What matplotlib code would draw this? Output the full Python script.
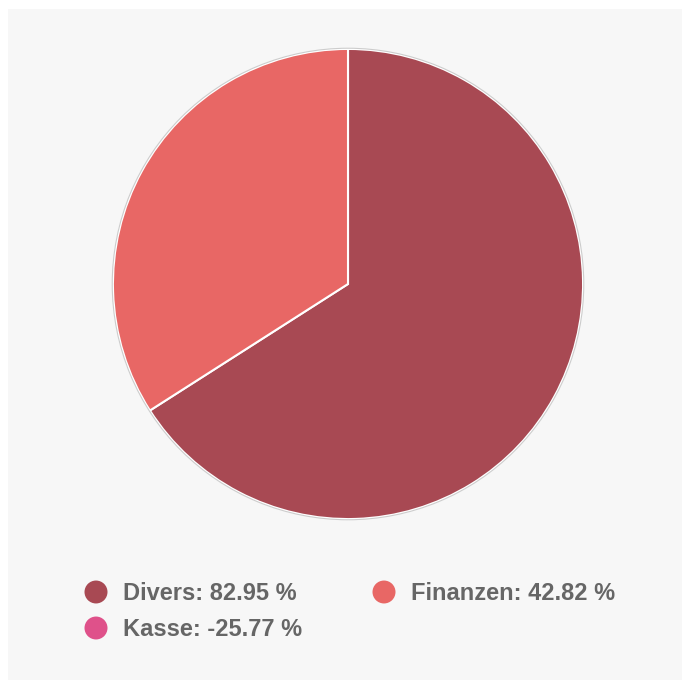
import matplotlib.pyplot as plt
from matplotlib.patches import Rectangle

# Data
labels = ['Divers', 'Finanzen', 'Kasse']
values = [82.95, 42.82, -25.77]
colours = ['#a84953', '#e86765', '#df518a']

W, H = 682, 680
fig = plt.figure(figsize=(W / 100, H / 100), dpi=100)
fig.patch.set_facecolor('white')

# Gray panel (white margin on left and top only)
fig.patches.append(Rectangle((8 / W, -0.01), 1, 1.01 - 9 / H, transform=fig.transFigure,
                             facecolor='#f7f7f7', edgecolor='none', zorder=-5))

# Pie axes: center (348, 284), radius 236 px
cx, cy, r = 348, 284, 236
ax = fig.add_axes([(cx - r) / W, 1 - (cy + r) / H, 2 * r / W, 2 * r / H])
ax.set_facecolor('none')
ax.set_zorder(2)

# Negative values are not drawn as slices
pieVals = [v for v in values if v > 0]
pieCols = [c for v, c in zip(values, colours) if v > 0]
ax.pie(pieVals, colors=pieCols, startangle=90, counterclock=False, radius=1,
       wedgeprops=dict(edgecolor='white', linewidth=1.5))
ax.pie([1], colors=['none'], radius=1.003,
       wedgeprops=dict(edgecolor='#cccccc', linewidth=0.8, facecolor='none'))
ax.set_xlim(-1.004, 1.004)
ax.set_ylim(-1.004, 1.004)
ax.set_aspect('equal')
ax.axis('off')

# Legend
positions = [(96, 592), (384, 592), (96, 628)]
for (x, y), lab, val, col in zip(positions, labels, values, colours):
    fig.patches.append(plt.Circle((x / W, 1 - y / H), 11.5 / W, transform=fig.transFigure,
                                  facecolor=col, edgecolor='none'))
    fig.text((x + 27) / W, 1 - (y + 2) / H, '{0}: {1:.2f} %'.format(lab, val),
             fontsize=17, fontweight='bold', color='#666666',
             family='Liberation Sans', va='center', ha='left')

fig.savefig('out.png', dpi=100, facecolor=fig.get_facecolor())
